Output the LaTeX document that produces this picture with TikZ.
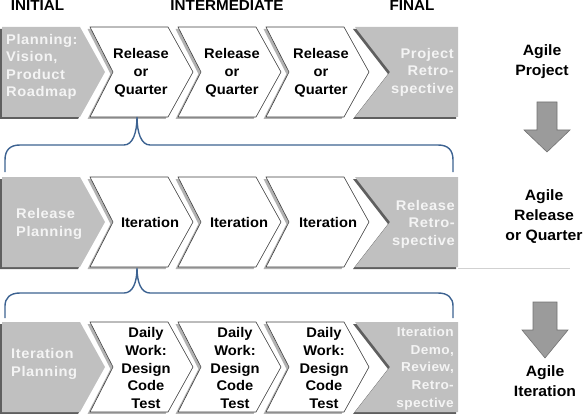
\documentclass[tikz,border=0pt]{standalone}
\usepackage{fontspec}
\setmainfont{Liberation Sans}[FakeStretch=1.05]
\definecolor{bracketblue}{RGB}{60,98,145}
\definecolor{boxgray}{RGB}{192,192,192}
\definecolor{boxshadow}{RGB}{95,95,95}
\definecolor{lighttext}{RGB}{244,244,244}
\definecolor{arrowgray}{RGB}{155,155,155}
\definecolor{arrowedge}{RGB}{115,115,115}
\newcommand\chevpath[3]{({#1},{#2}) -- ({#1+78},{#2}) -- ({#1+103},{(#2+#3)/2}) -- ({#1+78},{#3}) -- ({#1},{#3}) -- ({#1+23},{(#2+#3)/2}) -- cycle}
\newcommand\firstpath[2]{(2,{#1}) -- (80,{#1}) -- (105,{(#1+#2)/2}) -- (80,{#2}) -- (2,{#2}) -- cycle}
\newcommand\lastpath[2]{(355,{#1}) -- (458,{#1}) -- (458,{#2}) -- (355,{#2}) -- (390,{(#1+#2)/2}) -- cycle}
\begin{document}
\begin{tikzpicture}[x=1pt,y=-1pt,
  whitechev/.style={fill=white,draw=black!75,line width=0.6pt},
  chevshadow/.style={fill=black!30},
  graybox/.style={fill=boxgray},
  grayshadow/.style={fill=boxshadow},
  dark/.style={font=\bfseries\fontsize{14}{18}\selectfont,align=center,inner sep=0pt,text=black},
  light/.style={font=\bfseries\fontsize{14}{17.5}\selectfont\addfontfeature{LetterSpace=4},inner sep=0pt,text=lighttext},
  header/.style={font=\bfseries\fontsize{14.5}{17}\selectfont,inner sep=0pt,anchor=base},
  side/.style={font=\bfseries\fontsize{15}{20}\selectfont,align=center,inner sep=0pt},
  bracket/.style={draw=bracketblue,line width=1.4pt},
  blockarrow/.style={fill=arrowgray,draw=arrowedge,line width=0.6pt}]
\useasboundingbox (0,0) rectangle (588,414);
% shapes
\foreach \t/\b in {27/117,177/267,322/412}{
  \fill[grayshadow,shift={(-2,2)}] \firstpath{\t}{\b};
  \fill[graybox] \firstpath{\t}{\b};
  \foreach \s in {90,178,266}{
    \fill[chevshadow,shift={(-2.5,2)}] \chevpath{\s}{\t}{\b};
    \draw[whitechev] \chevpath{\s}{\t}{\b};
  }
  \fill[grayshadow,shift={(-2,2)}] \lastpath{\t}{\b};
  \fill[graybox] \lastpath{\t}{\b};
}
\draw[black!18,line width=0.8pt] (458,268.5) -- (570,268.5);
% headers
\node[header] (hinit) at (37.5,10.5) {INITIAL};
\node[header] (hinter) at (227,10.5) {INTERMEDIATE};
\node[header] (hfinal) at (412,10.5) {FINAL};
% row 1
\node[light,anchor=west,align=left] (r1a) at (6,67) {Planning:\\Vision,\\Product\\Roadmap};
\node[dark] (r1b) at (141,73) {Release\\or\\Quarter};
\node[dark] (r1c) at (232,73) {Release\\or\\Quarter};
\node[dark] (r1d) at (321,73) {Release\\or\\Quarter};
\node[light,anchor=east,align=right] (r1e) at (454,72) {Project\\Retro-\\spective};
% row 2
\node[light,anchor=west,align=left] (r2a) at (16,224) {Release\\Planning};
\node[dark] (r2b) at (150,222) {Iteration};
\node[dark] (r2c) at (239,222) {Iteration};
\node[dark] (r2d) at (328,222) {Iteration};
\node[light,anchor=east,align=right] (r2e) at (455,224) {Release\\Retro-\\spective};
% row 3
\node[light,anchor=west,align=left] (r3a) at (11,364) {Iteration\\Planning};
\node[dark,font=\bfseries\fontsize{14}{17.8}\selectfont] (r3b) at (146,368) {Daily\\Work:\\Design\\Code\\Test};
\node[dark,font=\bfseries\fontsize{14}{17.8}\selectfont] (r3c) at (235,368) {Daily\\Work:\\Design\\Code\\Test};
\node[dark,font=\bfseries\fontsize{14}{17.8}\selectfont] (r3d) at (324,368) {Daily\\Work:\\Design\\Code\\Test};
\node[light,anchor=east,align=right,font=\bfseries\fontsize{13}{17.7}\selectfont\addfontfeature{LetterSpace=3}] (r3e) at (454,368.5) {Iteration\\Demo,\\Review,\\Retro-\\spective};
% side labels
\node[side] (s1) at (542,62) {Agile\\Project};
\node[side] (s2) at (544,217) {Agile\\Release\\or Quarter};
\node[side] (s3) at (545,381) {Agile\\Iteration};
% block arrows
\draw[blockarrow] (537,102) -- (557,102) -- (557,130) -- (570,130) -- (547,152) -- (524,130) -- (537,130) -- cycle;
\draw[blockarrow] (533,302) -- (557,302) -- (557,330) -- (568,330) -- (545,358) -- (522,330) -- (533,330) -- cycle;
% brackets
\coordinate (b1l) at (5,172);
\coordinate (b1t) at (137,117);
\coordinate (b1r) at (453,172);
\coordinate (b2l) at (5,318);
\coordinate (b2t) at (137,268);
\coordinate (b2r) at (453,318);
\draw[bracket] (b1l) -- (5,160) .. controls (5,150) and (10,145) .. (20,145) -- (124,145) .. controls (133,145) and (137,132) .. (b1t) .. controls (137,132) and (141,145) .. (150,145) -- (438,145) .. controls (448,145) and (453,150) .. (453,160) -- (b1r);
\draw[bracket] (b2l) -- (5,306) .. controls (5,298) and (10,293) .. (20,293) -- (124,293) .. controls (133,293) and (137,282) .. (b2t) .. controls (137,282) and (141,293) .. (150,293) -- (438,293) .. controls (448,293) and (453,298) .. (453,306) -- (b2r);
\end{tikzpicture}
\end{document}
